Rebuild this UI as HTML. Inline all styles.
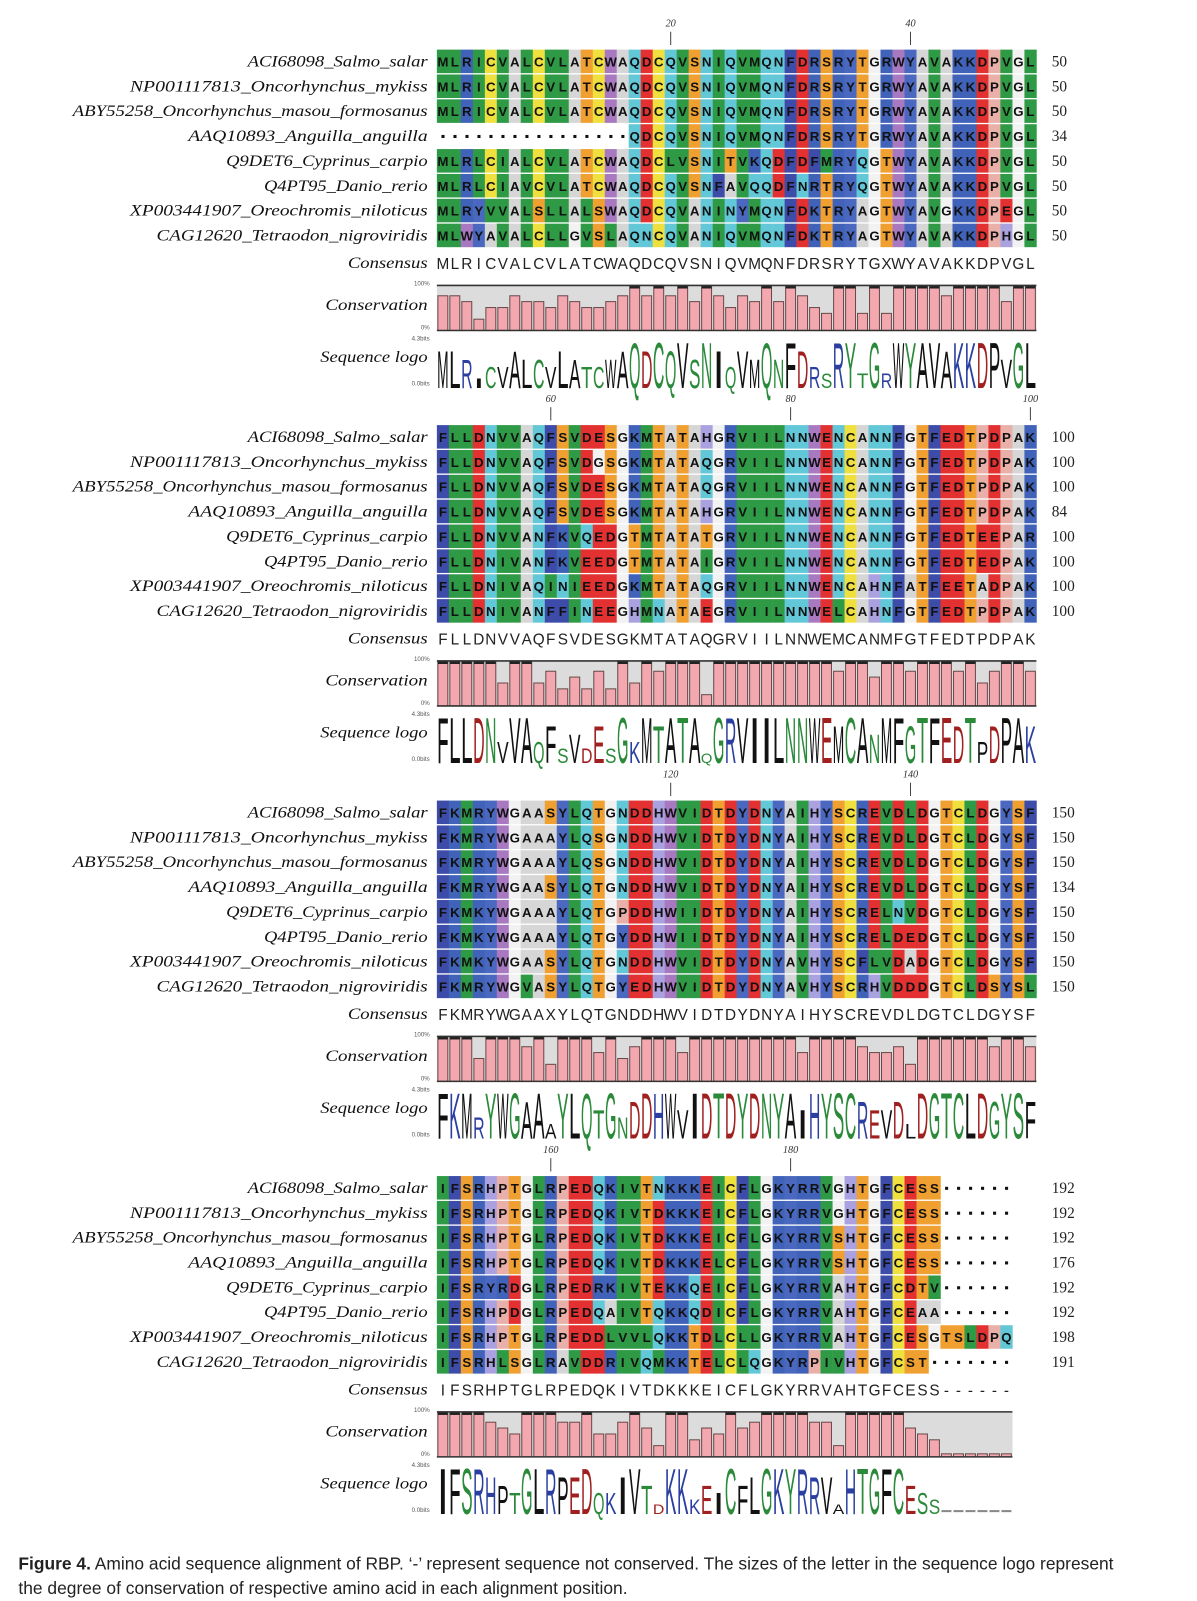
<!DOCTYPE html>
<html><head><meta charset="utf-8"><style>
html,body{margin:0;padding:0;background:#fff;}
#outer{position:relative;width:1197px;height:1601px;overflow:hidden;background:#fff;}
#wrap{position:absolute;left:0;top:0;width:1170px;height:1565px;transform:scale(1.0231);transform-origin:0 0;}
#cap{position:absolute;left:18px;top:1517px;width:1095px;font-family:"Liberation Sans",sans-serif;font-size:17px;line-height:24px;color:#222;}
</style></head><body><div id="outer"><div id="wrap"><svg id="s" width="1170" height="1565" xmlns="http://www.w3.org/2000/svg"></svg>
<div id="cap"><b>Figure 4.</b> Amino acid sequence alignment of RBP. ‘-’ represent sequence not conserved. The sizes of the letter in the sequence logo represent the degree of conservation of respective amino acid in each alignment position.</div></div></div>
<script>
var names=[["ACI68098_Salmo_salar",242],["NP001117813_Oncorhynchus_mykiss",127],["ABY55258_Oncorhynchus_masou_formosanus",71],["AAQ10893_Anguilla_anguilla",184],["Q9DET6_Cyprinus_carpio",221],["Q4PT95_Danio_rerio",258],["XP003441907_Oreochromis_niloticus",127],["CAG12620_Tetraodon_nigroviridis",153]];
var blocks=[
{seq:["MLRICVALCVLATCWAQDCQVSNIQVMQNFDRSRYTGRWYAVAKKDPVGL","MLRICVALCVLATCWAQDCQVSNIQVMQNFDRSRYTGRWYAVAKKDPVGL","MLRICVALCVLATCWAQDCQVSNIQVMQNFDRSRYTGRWYAVAKKDPVGL","----------------QDCQVSNIQVMQNFDRSRYTGRWYAVAKKDPVGL","MLRLCIALCVLATCWAQDCLVSNITVKQDFDFMRYQGTWYAVAKKDPVGL","MLRLCIAVCVLATCWAQDCQVSNFAVQQDFNRTRYQGTWYAVAKKDPVGL","MLRYVVALSLLALSWAQDCQVANINYMQNFDKTRYAGTWYAVGKKDPEGL","MLWYAVALCLLGVSLAQNCQVANIQVMQNFDKTRYAGTWYAVAKKDPHGL"],
cons:"MLRICVALCVLATCWAQDCQVSNIQVMQNFDRSRYTGXWYAVAKKDPVGL",num:["50","50","50","34","50","50","50","50"],rul:[[20,"20"],[40,"40"]]},
{seq:["FLLDNVVAQFSVDESGKMTATAHGRVIILNNWENCANNFGTFEDTPDPAK","FLLDNVVAQFSVDGSGKMTATAQGRVIILNNWENCANNFGTFEDTPDPAK","FLLDNVVAQFSVDESGKMTATAQGRVIILNNWENCANNFGTFEDTPDPAK","FLLDNVVAQFSVDESGKMTATAHGRVIILNNWENCANNFGTFEDTPDPAK","FLLDNVVANFKVQEDGTMTATATGRVIILNNWENCANNFGTFEDTEEPAR","FLLDNIVANFKVEEDGTMTATAIGRVIILNNWENCANNFGTFEDTEDPAK","FLLDNIVAQINIEEDGKMTATAQGRVIILNNWENCAHNFATFEETADPAK","FLLDNIVANFFINEEGHMNATAEGRVIILNNWELCAHNFGTFEDTPDPAK"],
cons:"FLLDNVVAQFSVDESGKMTATAQGRVIILNNWEMCANMFGTFEDTPDPAK",num:["100","100","100","84","100","100","100","100"],rul:[[10,"60"],[30,"80"],[50,"100"]]},
{seq:["FKMRYWGAASYLQTGNDDHWVIDTDYDNYAIHYSCREVDLDGTCLDGYSF","FKMRYWGAAAYLQSGNDDHWVIDTDYDNYAIHYSCREVDLDGTCLDGYSF","FKMRYWGAAAYLQSGNDDHWVIDTDYDNYAIHYSCREVDLDGTCLDGYSF","FKMRYWGAASYLQTGNDDHWVIDTDYDNYAIHYSCREVDLDGTCLDGYSF","FKMKYWGAAAYLQTGPDDHWIIDTDYDNYAIHYSCRELNVDGTCLDGYSF","FKMKYWGAAAYLQTGYDDHWIIDTDYDNYAIHYSCRELDEDGTCLDGYSF","FKMKYWGAASYLQTGNDDHWVIDTDYDNYAVHYSCFLVDADGTCLDGYSF","FKMRYWGVASYLQTGYEDHWVIDTDYDNYAVHYSCRHVDDDGTCLDSYSL"],
cons:"FKMRYWGAAXYLQTGNDDHWVIDTDYDNYAIHYSCREVDLDGTCLDGYSF",num:["150","150","150","134","150","150","150","150"],rul:[[20,"120"],[40,"140"]]},
{seq:["IFSRHPTGLRPEDQKIVTNKKKEICFLGKYRRVGHTGFCESS------","IFSRHPTGLRPEDQKIVTDKKKEICFLGKYRRVGHTGFCESS------","IFSRHPTGLRPEDQKIVTDKKKEICFLGKYRRVSHTGFCESS------","IFSRHPTGLRPEDQKIVTDKKKELCFLGKYRRVSHTGFCESS------","IFSRYRDGLRPEDRKIVTEKKQEICFLGKYRRVAHTGFCDTV------","IFSRHPDGLRPEDQAIVTQKKQDICFLGKYRRVAHTGFCEAA------","IFSRHPTGLRPEDDLVVLQKKTDLCLLGKYRRVAHTGFCESGTSLDPQ","IFSRHLSGLRAVDDRIVQMKKTELCLQGKYRPIVHTGFCST-------"],
cons:"IFSRHPTGLRPEDQKIVTDKKKEICFLGKYRRVAHTGFCESS------",num:["192","192","192","176","192","192","198","191"],rul:[[10,"160"],[30,"180"]]}];
var col={G:"#f2f2f2",A:"#d6d6d6",L:"#2f9a45",I:"#2f9a45",V:"#2f9a45",M:"#2f9a45",F:"#3c4ca8",W:"#a878c0",Y:"#4a68c0",C:"#efe040",P:"#e8b0a8",H:"#aaa2e0",K:"#4062b8",R:"#4062b8",D:"#e33030",E:"#e33030",S:"#f0a030",T:"#f0a030",N:"#62c8d8",Q:"#62c8d8"};
var lcol={D:"#a02020",E:"#a02020",K:"#2a3fa0",R:"#2a3fa0",H:"#2a3fa0",Q:"#2a8a3a",N:"#2a8a3a",S:"#2a8a3a",T:"#2a8a3a",G:"#2a8a3a",Y:"#2a8a3a",C:"#2a8a3a"};
var X0=427,CW=11.72,out=[];
function t(x,y,s,a){out.push('<text x="'+x+'" y="'+y+'" '+a+'>'+s+'</text>');}
blocks.forEach(function(b,bi){
 var oy=bi*367, n=b.seq[0].length;
 b.rul.forEach(function(r){var cx=X0+(r[0]-0.5)*CW;
  t(cx,oy+26,r[1],'font-family="Liberation Serif" font-style="italic" font-size="10" text-anchor="middle" fill="#333"');
  out.push('<line x1="'+cx+'" y1="'+(oy+31)+'" x2="'+cx+'" y2="'+(oy+44)+'" stroke="#444" stroke-width="1"/>');});
 b.seq.forEach(function(s,ri){
  var cy=oy+60+ri*24.3;
  t(418,cy+5,names[ri][0],'font-family="Liberation Serif" font-style="italic" font-size="15" text-anchor="end" textLength="'+(418-names[ri][1])+'" lengthAdjust="spacingAndGlyphs" fill="#111"');
  for(var i=0;i<s.length;i++){var c=s[i],x=X0+i*CW;
   if(c=='-'){out.push('<rect x="'+(x+4.5)+'" y="'+(cy-1)+'" width="3" height="3" fill="#111"/>');continue;}
   out.push('<rect x="'+x.toFixed(1)+'" y="'+(cy-11.5)+'" width="'+(CW+0.3)+'" height="23" fill="'+(col[c]||"#fff")+'"/>');
   t((x+CW/2).toFixed(1),cy+5,c,'font-family="Liberation Sans" font-weight="bold" font-size="13" text-anchor="middle" fill="#111"');}
  t(1028,cy+5,b.num[ri],'font-family="Liberation Serif" font-size="15" fill="#222"');
 });
 var ccy=oy+257;
 t(418,ccy+5,"Consensus",'font-family="Liberation Serif" font-style="italic" font-size="15" text-anchor="end" textLength="78" lengthAdjust="spacingAndGlyphs" fill="#111"');
 for(var i=0;i<b.cons.length;i++){t((X0+i*CW+CW/2).toFixed(1),ccy+6,b.cons[i],'font-family="Liberation Sans" font-size="15" text-anchor="middle" fill="#222"');}
 var top=oy+279,bot=oy+323,H=bot-top, W=n*CW;
 t(418,oy+303,"Conservation",'font-family="Liberation Serif" font-style="italic" font-size="15" text-anchor="end" textLength="100" lengthAdjust="spacingAndGlyphs" fill="#111"');
 t(420,oy+279,"100%",'font-family="Liberation Sans" font-size="6" text-anchor="end" fill="#555"');
 t(420,oy+322,"0%",'font-family="Liberation Sans" font-size="6" text-anchor="end" fill="#555"');
 t(420,oy+333,"4.3bits",'font-family="Liberation Sans" font-size="6" text-anchor="end" fill="#555"');
 t(420,oy+377,"0.0bits",'font-family="Liberation Sans" font-size="6" text-anchor="end" fill="#555"');
 out.push('<rect x="'+X0+'" y="'+top+'" width="'+W.toFixed(1)+'" height="'+H+'" fill="#dcdcdc"/>');
 for(var i=0;i<n;i++){
  var cnt={},best='',bc=0;
  for(var r=0;r<8;r++){var c=b.seq[r][i];cnt[c]=(cnt[c]||0)+1;if(cnt[c]>bc){bc=cnt[c];best=c;}}
  var f=bc/8; var x=X0+i*CW;
  if(best=='-'){f=0.08;}
  var h=Math.max(3,H*(f<1?(0.25+0.65*(f-0.375)/0.625):1));
  out.push('<rect x="'+(x+1).toFixed(1)+'" y="'+(bot-h).toFixed(1)+'" width="'+(CW-2).toFixed(1)+'" height="'+h.toFixed(1)+'" fill="#f2a8ae" stroke="#6a4a4a" stroke-width="1"/>');
  if(f==1)out.push('<rect x="'+(x+1).toFixed(1)+'" y="'+top+'" width="'+(CW-2).toFixed(1)+'" height="3" fill="#222"/>');
  var lc=b.cons[i]=='X'?best:b.cons[i];
  if(best=='-'){lc='-';}
  var lh=f==1?46:Math.max(8,46*Math.pow(f,1.6));
  if(lc=='-'){out.push('<rect x="'+(x+1)+'" y="'+(oy+375)+'" width="'+(CW-2)+'" height="2" fill="#888"/>');continue;}
  var sy=lh/29, by=oy+379;
  out.push('<text x="0" y="0" font-family="Liberation Sans Narrow, Liberation Sans" font-size="40" text-anchor="middle" textLength="'+(CW-0.5)+'" lengthAdjust="spacingAndGlyphs" fill="'+(lcol[lc]||"#111")+'" transform="translate('+(x+CW/2).toFixed(1)+','+by+') scale(1,'+sy.toFixed(3)+')">'+lc+'</text>');
 }
 out.push('<line x1="'+X0+'" y1="'+top+'" x2="'+(X0+W).toFixed(1)+'" y2="'+top+'" stroke="#333" stroke-width="1.5"/>');
 out.push('<line x1="'+X0+'" y1="'+bot+'" x2="'+(X0+W).toFixed(1)+'" y2="'+bot+'" stroke="#333" stroke-width="1.5"/>');
 t(418,oy+354,"Sequence logo",'font-family="Liberation Serif" font-style="italic" font-size="15" text-anchor="end" textLength="105" lengthAdjust="spacingAndGlyphs" fill="#111"');
});
document.getElementById('s').innerHTML=out.join('');
</script></body></html>
